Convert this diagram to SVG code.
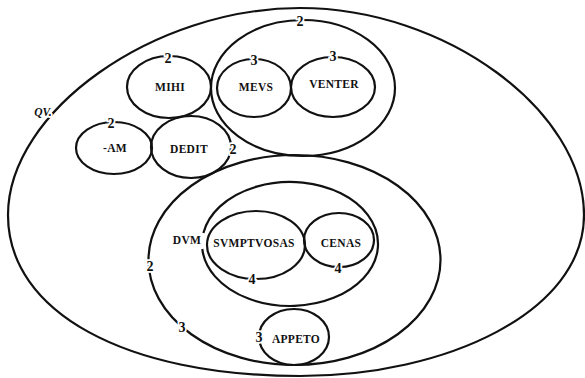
<svg xmlns="http://www.w3.org/2000/svg" width="585" height="378" viewBox="0 0 585 378">
<style>
.ln{fill:none;stroke:#111;stroke-width:2.2}
.lb{font-family:"Liberation Serif","DejaVu Serif",serif;font-weight:bold;font-size:11.5px;fill:#111;text-anchor:middle;dominant-baseline:central;letter-spacing:0.3px}
.nm{font-family:"Liberation Serif","DejaVu Serif",serif;font-weight:bold;font-size:14px;fill:#111;text-anchor:middle;dominant-baseline:central;stroke:#fff;stroke-width:3.5;paint-order:stroke}
.qv{font-family:"Liberation Serif","DejaVu Serif",serif;font-style:italic;font-weight:bold;font-size:11.5px;fill:#111;text-anchor:middle;dominant-baseline:central;stroke:#fff;stroke-width:4;paint-order:stroke}
</style>
<rect width="585" height="378" fill="#fff"/>
<g id="qv">
<path class="ln" d="M300 8 C446 8 584 111 584 215 C584 312 446 376 300 376 C125 376 8 312 8 215 C8 111 154 8 300 8 Z"/>
<text class="qv" x="43" y="112">QV.</text>
</g>
<g id="mihi">
<ellipse class="ln" cx="169" cy="87" rx="42" ry="31"/>
<text class="lb" x="170" y="87">MIHI</text>
<text class="nm" x="168" y="58">2</text>
</g>
<g id="upper">
<ellipse class="ln" cx="303" cy="88" rx="92" ry="68"/>
<text class="nm" x="300" y="21">2</text>
</g>
<g id="mevs">
<ellipse class="ln" cx="254" cy="88" rx="37" ry="29"/>
<text class="lb" x="256" y="87">MEVS</text>
<text class="nm" x="254" y="60">3</text>
</g>
<g id="venter">
<ellipse class="ln" cx="333" cy="87" rx="42" ry="30"/>
<text class="lb" x="334" y="84">VENTER</text>
<text class="nm" x="333" y="56">3</text>
</g>
<g id="am">
<ellipse class="ln" cx="114" cy="148" rx="38" ry="26"/>
<text class="lb" x="115" y="148">-AM</text>
<text class="nm" x="111" y="123">2</text>
</g>
<g id="dedit">
<ellipse class="ln" cx="191" cy="147" rx="40" ry="31"/>
<text class="lb" x="189" y="149">DEDIT</text>
<text class="nm" x="233" y="149">2</text>
</g>
<g id="lower">
<ellipse class="ln" cx="294.5" cy="260" rx="146" ry="105"/>
<text class="nm" x="150" y="266">2</text>
<text class="nm" x="182" y="327">3</text>
</g>
<g id="dvm">
<path class="ln" d="M203.4 233 A88 62 0 1 1 202.3 249"/>
<text class="lb" x="187" y="240">DVM</text>
</g>
<g id="svmptvosas">
<ellipse class="ln" cx="256" cy="245" rx="49" ry="34"/>
<text class="lb" x="254" y="243">SVMPTVOSAS</text>
<text class="nm" x="252" y="279">4</text>
</g>
<g id="cenas">
<ellipse class="ln" cx="339" cy="240" rx="35" ry="27"/>
<text class="lb" x="341" y="243">CENAS</text>
<text class="nm" x="338" y="268">4</text>
</g>
<g id="appeto">
<ellipse class="ln" cx="294" cy="337" rx="35" ry="28"/>
<text class="lb" x="296" y="339">APPETO</text>
<text class="nm" x="259" y="337">3</text>
</g>
<g id="connectors"></g>
</svg>
